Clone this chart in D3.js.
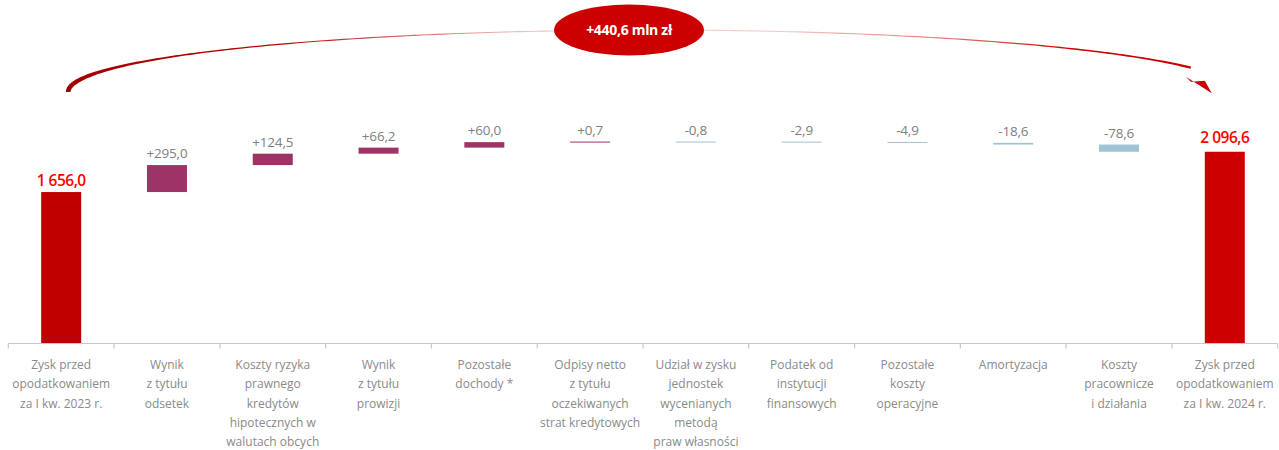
<!DOCTYPE html>
<html>
<head>
<meta charset="utf-8">
<script src="https://cdn.jsdelivr.net/npm/d3@7"></script>
<style>
  html, body { margin: 0; padding: 0; background: #ffffff; }
  svg { display: block; }
  text { font-family: "Open Sans", "DejaVu Sans", sans-serif; }
</style>
</head>
<body>
<svg id="chart" width="1279" height="450"></svg>
<script>
// ---------------- data ----------------
const categories = [
  ["Zysk przed", "opodatkowaniem", "za I kw. 2023 r."],
  ["Wynik", "z tytułu", "odsetek"],
  ["Koszty ryzyka", "prawnego", "kredytów", "hipotecznych w", "walutach obcych"],
  ["Wynik", "z tytułu", "prowizji"],
  ["Pozostałe", "dochody *"],
  ["Odpisy netto", "z tytułu", "oczekiwanych", "strat kredytowych"],
  ["Udział w zysku", "jednostek", "wycenianych", "metodą", "praw własności"],
  ["Podatek od", "instytucji", "finansowych"],
  ["Pozostałe", "koszty", "operacyjne"],
  ["Amortyzacja"],
  ["Koszty", "pracownicze", "i działania"],
  ["Zysk przed", "opodatkowaniem", "za I kw. 2024 r."]
];
const values = [1656.0, 295.0, 124.5, 66.2, 60.0, 0.7, -0.8, -2.9, -4.9, -18.6, -78.6, 2096.6];
const kinds  = ["total", "delta", "delta", "delta", "delta", "delta", "delta", "delta", "delta", "delta", "delta", "total"];
const valueLabels = ["1 656,0", "+295,0", "+124,5", "+66,2", "+60,0", "+0,7", "-0,8", "-2,9", "-4,9", "-18,6", "-78,6", "2 096,6"];
const changeLabel = "+440,6 mln zł";

// ---------------- layout ----------------
const svg = d3.select("#chart");
const baseY = 343.5;
const x = d3.scaleBand().domain(d3.range(categories.length)).range([8.3, 1277.7]).padding(0);
const y = d3.scaleLinear().domain([0, 2400]).range([baseY, 124]);
const barW = 40;
const cx = i => x(i) + x.bandwidth() / 2;

// compute waterfall extents
let running = 0;
const bars = values.map((v, i) => {
  let lo, hi;
  if (kinds[i] === "total") { lo = 0; hi = v; running = v; }
  else { const s = running; running += v; lo = Math.min(s, running); hi = Math.max(s, running); }
  return { i, v, lo, hi, kind: kinds[i] };
});

const colorFor = d => {
  if (d.kind === "total") return d.i === 0 ? "#c00000" : "#cc0000";
  return d.v >= 0 ? "#9e3465" : "#9ec4d5";
};

// bars
svg.append("g").selectAll("rect").data(bars).join("rect")
  .attr("x", d => cx(d.i) - barW / 2)
  .attr("width", barW)
  .attr("y", d => {
    const h = y(d.lo) - y(d.hi);
    return h < 1 ? y(d.hi) - 0.5 : y(d.hi);
  })
  .attr("height", d => Math.max(1, y(d.lo) - y(d.hi)))
  .attr("fill", colorFor);

// value labels
svg.append("g").selectAll("text").data(bars).join("text")
  .attr("x", d => cx(d.i))
  .attr("y", d => d.kind === "total" ? y(d.hi) - (d.i === 0 ? 6 : 9) : y(d.hi) - 7)
  .attr("text-anchor", "middle")
  .attr("font-size", d => d.kind === "total" ? 15.5 : 13.5)
  .attr("font-weight", d => d.kind === "total" ? 600 : 400)
  .attr("letter-spacing", d => d.kind === "total" ? -0.5 : -0.2)
  .attr("fill", d => d.kind === "total" ? "#ff0000" : "#808080")
  .text((d, i) => valueLabels[i]);

// axis
const axis = svg.append("g");
axis.append("line")
  .attr("x1", x.range()[0]).attr("x2", x.range()[1])
  .attr("y1", baseY).attr("y2", baseY)
  .attr("stroke", "#c8c8c8").attr("stroke-width", 1.2);
axis.selectAll("line.tick").data(d3.range(categories.length + 1)).join("line")
  .attr("class", "tick")
  .attr("x1", i => i < categories.length ? x(i) : x.range()[1])
  .attr("x2", i => i < categories.length ? x(i) : x.range()[1])
  .attr("y1", baseY).attr("y2", baseY + 5)
  .attr("stroke", "#c8c8c8").attr("stroke-width", 1.2);

// category labels
const catG = svg.append("g");
categories.forEach((lines, i) => {
  const t = catG.append("text")
    .attr("x", cx(i)).attr("y", 369)
    .attr("text-anchor", "middle")
    .attr("font-size", 12)
    .attr("fill", "#8a8a8a");
  lines.forEach((ln, k) => {
    t.append("tspan").attr("x", cx(i)).attr("y", 369 + k * 19.3).text(ln);
  });
});

// ---------------- arc annotation ----------------
const defs = svg.append("defs");
const x0 = cx(0) + 7, xEnd = cx(categories.length - 1) - 13;
const grad = defs.append("linearGradient").attr("id", "arcGrad")
  .attr("gradientUnits", "userSpaceOnUse")
  .attr("x1", x0).attr("x2", xEnd).attr("y1", 0).attr("y2", 0);
[[0, "#a40000"], [0.18, "#b30000"], [0.3, "#d66a6a"], [0.4, "#f2c0c0"],
 [0.62, "#f6cccc"], [0.76, "#e38080"], [0.88, "#cc0000"], [1, "#cc0000"]]
  .forEach(([o, c]) => grad.append("stop").attr("offset", o).attr("stop-color", c));

const ex = (x0 + xEnd + 20) / 2 + 3;  // ellipse center x
const erx = ex - x0, ery = 62, ecy = 92;
const notchX = xEnd - 21;
const thetaEnd = Math.acos((notchX - ex) / erx);
const N = 200;
const pts = d3.range(N + 1).map(k => {
  const th = Math.PI - (Math.PI - thetaEnd) * k / N;
  const px = ex + erx * Math.cos(th), py = ecy - ery * Math.sin(th);
  const dx = -erx * Math.sin(th), dy = -ery * Math.cos(th);
  const len = Math.hypot(dx, dy);
  const nx = -dy / len, ny = dx / len;
  const f = (px - x0) / (xEnd - x0);
  const w = 1.1 + 3.6 * Math.exp(-f / 0.05) + 1.6 * Math.exp(-(1 - f) / 0.07);
  return { px, py, nx, ny, w };
});
const upper = pts.map(p => [p.px + p.nx * p.w / 2, p.py + p.ny * p.w / 2]);
const lower = pts.map(p => [p.px - p.nx * p.w / 2, p.py - p.ny * p.w / 2]).reverse();
svg.append("path")
  .attr("d", d3.line()(upper.concat(lower)) + "Z")
  .attr("fill", "url(#arcGrad)");

// arrow head
const tipX = xEnd, tipY = 93.3;
svg.append("path")
  .attr("d", d3.line()([
    [tipX, tipY], [tipX - 26, tipY - 16.5], [tipX - 21, tipY - 11.5], [tipX - 7, tipY - 12.5]
  ]) + "Z")
  .attr("fill", "#cc0000");

// ellipse badge
const bx = x(6) - 14;
svg.append("ellipse")
  .attr("cx", bx).attr("cy", 30)
  .attr("rx", 75).attr("ry", 25.5)
  .attr("fill", "#cc0000");
svg.append("text")
  .attr("x", bx).attr("y", 35)
  .attr("text-anchor", "middle")
  .attr("font-size", 14)
  .attr("font-weight", 700)
  .attr("letter-spacing", -0.3)
  .attr("fill", "#ffffff")
  .text(changeLabel);
</script>
</body>
</html>
